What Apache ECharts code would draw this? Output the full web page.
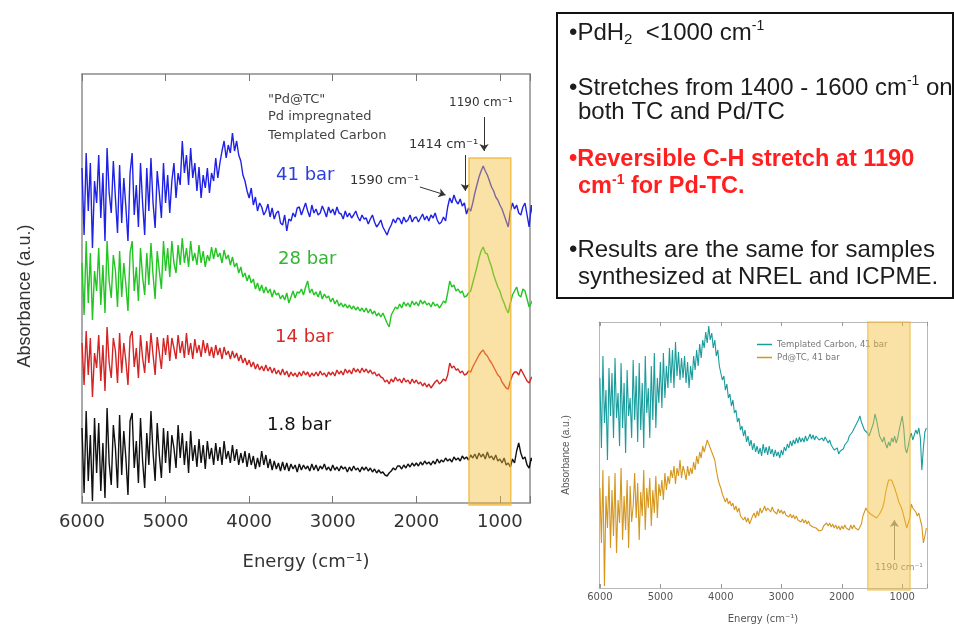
<!DOCTYPE html>
<html><head><meta charset="utf-8">
<script src="https://cdn.jsdelivr.net/npm/echarts@6/dist/echarts.min.js"></script>
<style>html,body{margin:0;padding:0;background:#fff}#c{width:954px;height:625px}</style>
</head><body><div id="c"></div>
<script>
// ---- data (energy in cm-1, absorbance in arbitrary units, offset traces) ----
const energy = [
6000,5975,5950,5925,5900,5875,5850,5825,
5800,5775,5750,5725,5700,5675,5650,5625,
5600,5575,5550,5525,5500,5475,5450,5425,
5400,5375,5350,5325,5300,5275,5250,5225,
5200,5175,5150,5125,5100,5075,5050,5025,
5000,4975,4950,4925,4900,4875,4850,4825,
4800,4775,4750,4725,4700,4675,4650,4625,
4600,4575,4550,4525,4500,4475,4450,4425,
4400,4375,4350,4325,4300,4275,4250,4225,
4200,4175,4150,4125,4100,4075,4050,4025,
4000,3975,3950,3925,3900,3875,3850,3825,
3800,3775,3750,3725,3700,3675,3650,3625,
3600,3575,3550,3525,3500,3475,3450,3425,
3400,3375,3350,3325,3300,3275,3250,3225,
3200,3175,3150,3125,3100,3075,3050,3025,
3000,2975,2950,2925,2900,2875,2850,2825,
2800,2775,2750,2725,2700,2675,2650,2625,
2600,2575,2550,2525,2500,2475,2450,2425,
2400,2375,2350,2325,2300,2275,2250,2225,
2200,2175,2150,2125,2100,2075,2050,2025,
2000,1975,1950,1925,1900,1875,1850,1825,
1800,1775,1750,1725,1700,1675,1650,1625,
1600,1575,1550,1525,1500,1475,1450,1425,
1400,1375,1350,1325,1300,1275,1250,1225,
1200,1175,1150,1125,1100,1075,1050,1025,
1000,975,950,925,900,875,850,825,
800,775,750,725,700,675,650,625,
600];

const bar41 = [
335,268,350,292,340,255,322,300,
348,285,330,262,355,310,290,342,
305,270,338,280,325,296,262,330,
350,288,318,276,340,300,268,335,
292,345,300,275,332,310,285,340,
300,328,290,322,340,305,330,318,
362,330,348,318,355,325,340,312,
336,305,328,315,335,310,330,322,
345,325,340,352,362,345,358,350,
370,352,362,348,342,328,322,312,
305,315,298,306,292,300,296,288,
292,299,286,295,284,290,292,280,
278,288,272,284,282,290,286,295,
296,288,294,300,292,286,298,290,
294,288,290,297,292,286,296,290,
294,288,296,290,289,284,292,286,
290,285,288,292,286,282,288,284,
285,279,284,288,281,276,279,283,
276,272,268,274,278,284,280,285,
284,279,286,281,283,288,281,285,
286,281,285,289,283,287,282,288,
285,290,283,279,281,286,282,296,
305,300,308,302,299,304,297,300,
289,295,292,300,310,318,326,332,
337,332,328,322,316,312,306,303,
298,294,288,282,276,292,300,294,
298,290,288,296,300,288,276,298,
284];

const bar28 = [
240,188,262,200,250,183,232,212,
255,198,238,190,262,222,205,248,
232,196,252,206,240,218,192,250,
262,212,236,202,255,226,208,250,
218,260,228,204,252,232,214,262,
232,255,226,262,240,230,258,238,
265,240,255,236,262,242,250,238,
258,240,252,236,248,242,256,244,
255,246,250,240,253,244,248,238,
246,236,240,230,236,226,230,222,
228,220,224,214,220,212,218,210,
216,210,214,206,213,208,210,204,
208,203,210,200,206,212,205,211,
210,214,208,216,222,210,214,208,
211,206,212,204,209,205,207,201,
205,199,203,197,200,196,199,195,
198,194,197,193,196,192,195,191,
195,190,194,189,192,187,190,186,
190,185,180,176,188,192,196,194,
199,195,201,197,200,196,202,198,
201,197,203,199,202,198,200,196,
201,197,199,195,198,202,200,210,
222,216,218,212,214,210,212,206,
207,210,212,220,228,236,245,252,
256,250,249,242,236,228,222,216,
212,205,200,194,190,200,208,212,
216,208,206,214,212,204,196,200,
204];

const bar14 = [
160,118,172,128,165,106,150,135,
168,122,158,112,176,140,125,165,
152,120,170,130,160,142,118,166,
172,136,155,125,168,145,130,162,
140,170,148,128,166,150,134,165,
148,168,142,165,155,144,168,150,
162,145,170,148,160,144,164,150,
158,146,163,150,160,147,156,145,
158,148,155,144,156,148,152,144,
152,145,150,142,148,140,145,138,
143,136,141,134,139,133,137,132,
138,132,136,130,135,129,133,128,
134,128,132,126,131,127,130,126,
131,127,132,128,131,126,130,127,
131,127,132,128,130,126,131,128,
131,127,133,129,132,128,134,130,
133,129,135,131,134,130,135,131,
134,130,133,129,131,127,129,126,
125,121,123,119,124,121,126,122,
124,120,125,121,123,119,124,120,
123,119,121,117,120,116,119,115,
118,121,123,119,121,124,122,128,
140,135,137,133,134,130,132,128,
129,132,131,136,140,144,148,151,
153,149,147,143,140,136,132,128,
126,121,118,115,114,122,128,131,
131,128,134,130,126,122,120,125,
127];

const bar1p8 = [
75,10,92,22,68,2,85,30,
80,12,60,5,95,40,18,78,
55,15,88,28,72,45,8,82,
90,35,62,20,85,42,15,70,
38,92,50,22,80,48,25,75,
40,72,30,68,55,35,78,45,
70,38,62,30,72,42,58,36,
64,40,58,34,62,44,55,38,
60,42,56,38,62,44,52,40,
58,42,54,38,50,40,52,36,
50,38,47,34,45,36,52,38,
48,35,44,33,42,34,40,32,
41,33,40,32,39,34,38,31,
39,33,38,34,37,32,39,33,
38,32,37,34,39,33,36,32,
38,33,36,32,37,34,36,31,
36,32,37,33,35,31,36,33,
36,32,35,31,34,30,33,30,
31,28,27,30,32,35,33,37,
37,34,38,35,39,36,40,37,
40,37,41,38,42,39,41,38,
42,39,44,40,43,41,45,42,
44,41,46,43,45,42,47,44,
46,43,48,45,49,44,50,46,
49,44,51,45,47,43,48,42,
44,40,45,38,40,36,44,40,
52,60,50,44,46,38,35,45,
40];

const tc41 = [
210,140,232,165,198,128,220,172,
215,150,230,170,195,142,225,160,
205,135,218,172,190,150,228,168,
212,146,225,158,205,140,232,175,
200,150,222,168,235,160,210,185,
226,180,235,190,222,200,240,205,
238,200,246,212,236,208,230,210,
232,205,226,200,222,208,232,218,
238,222,244,230,248,240,256,245,
262,248,255,240,248,232,238,222,
220,208,212,198,204,190,194,182,
188,175,178,166,170,158,162,152,
158,146,152,142,148,138,145,136,
142,134,140,132,144,135,141,133,
142,134,139,131,138,132,136,130,
138,133,141,137,144,140,147,142,
148,144,150,145,151,146,150,146,
152,147,150,154,149,153,148,152,
152,148,146,150,147,151,149,145,
148,143,141,138,136,140,134,137,
135,139,143,141,147,152,150,156,
158,162,165,168,172,166,162,158,
160,155,152,156,158,165,174,168,
160,152,150,146,151,144,140,146,
142,150,146,152,145,150,158,165,
172,160,140,135,142,150,155,148,
150,158,154,160,150,118,140,156,
160];

const pdtc41 = [
100,45,118,2,92,60,112,40,
98,52,115,35,88,65,120,48,
92,58,108,40,102,66,82,115,
70,105,48,96,72,118,58,100,
80,110,62,98,75,112,70,104,
92,108,88,115,98,112,104,118,
110,122,104,120,112,128,110,122,
116,108,122,112,120,114,126,118,
132,124,136,130,142,136,138,148,
146,140,138,132,128,118,110,104,
100,94,92,86,90,84,87,82,
85,78,82,76,80,72,74,68,
71,66,70,64,68,72,75,70,
77,72,80,75,78,82,77,80,
80,76,81,77,78,74,79,75,
78,74,77,73,75,71,74,70,
73,69,72,68,70,66,69,65,
68,64,67,63,65,61,63,60,
60,57,55,58,62,60,65,62,
65,61,64,60,63,59,62,58,
62,59,63,60,62,58,63,59,
63,60,62,58,61,64,72,76,
80,77,78,74,76,72,73,70,
70,74,72,80,86,95,102,108,
110,108,106,100,95,90,85,82,
78,72,66,60,58,70,84,80,
80,76,72,75,68,62,45,52,
60];

const mainSeriesNames = ['41 bar','28 bar','14 bar','1.8 bar'];
const smallSeriesNames = ['Templated Carbon, 41 bar','Pd@TC, 41 bar'];
// highlighted bands: [energy from, energy to, top value]
const mainBand = [[1370, 870, 345]];
const smallBand = [[1570, 870, 266]];
// annotation arrows [[x0,y0],[x1,y1]]
const mainArrows = [[[1190,386],[1190,352]], [[1414,348],[1414,312]], [[1957,316],[1650,308]]];
const smallArrows = [[[1130,28],[1130,68]]];

const DV = "'DejaVu Sans', Verdana, sans-serif";
const AR = "'Liberation Sans', Arial, Helvetica, sans-serif";
const pair = ys => energy.map((e, i) => [e, ys[i]]);
const tickFmt = v => (v % 1000 === 0 ? String(v) : '');

const chart = echarts.init(document.getElementById('c'));

function bandSeries(xi, yi, data, fill, stroke) {
  return {
    type: 'custom', xAxisIndex: xi, yAxisIndex: yi, z: 10, silent: true,
    data: data,
    renderItem: function (params, api) {
      const p0 = api.coord([api.value(0), api.value(2)]);
      const p1 = api.coord([api.value(1), 0]);
      return {
        type: 'rect',
        shape: {x: p0[0], y: p0[1], width: p1[0] - p0[0], height: p1[1] - p0[1] + 2},
        style: {fill: fill, stroke: stroke, lineWidth: 1.5}
      };
    }
  };
}
function arrowSeries(xi, yi, arrows, color) {
  return {
    type: 'line', xAxisIndex: xi, yAxisIndex: yi, data: [], silent: true,
    markLine: {
      silent: true, symbol: ['none', 'arrow'], symbolSize: 7,
      label: {show: false},
      lineStyle: {color: color, width: 1, type: 'solid'},
      data: arrows.map(a => [{coord: a[0]}, {coord: a[1]}])
    }
  };
}
function richNormal() {
  const c = '#1c1c1c';
  return {
    n: {fontFamily: AR, fontSize: 24, lineHeight: 28, fill: c, color: c},
    sup: {fontFamily: AR, fontSize: 14, lineHeight: 18, verticalAlign: 'top', fill: c, color: c},
    sub: {fontFamily: AR, fontSize: 15, lineHeight: 14, verticalAlign: 'bottom', fill: c, color: c}
  };
}
function richBold() {
  const c = '#ff1f1f';
  return {
    n: {fontFamily: AR, fontSize: 23.5, fontWeight: 'bold', lineHeight: 28, fill: c, color: c},
    sup: {fontFamily: AR, fontSize: 14, fontWeight: 'bold', lineHeight: 18, verticalAlign: 'top', fill: c, color: c}
  };
}

const mainX = {type: 'value', inverse: true, min: 640, max: 6000, splitLine: {show: false}};
const smallX = {type: 'value', inverse: true, min: 590, max: 6015, splitLine: {show: false}};
const LW = 1.4;

const option = {
  animation: false,
  backgroundColor: '#ffffff',
  grid: [
    {left: 82, top: 74, width: 448, height: 429},
    {left: 599, top: 322, width: 328, height: 266}
  ],
  legend: {
    data: smallSeriesNames, orient: 'vertical', left: 752, top: 335,
    icon: 'rect', itemWidth: 15, itemHeight: 1.5, itemGap: 4,
    textStyle: {fontFamily: DV, fontSize: 8.5, color: '#777'}
  },
  xAxis: [
    Object.assign({}, mainX, {
      gridIndex: 0, position: 'bottom',
      axisLine: {onZero: false, lineStyle: {color: '#8c8c8c', width: 1.5}},
      axisTick: {inside: true, length: 7, lineStyle: {color: '#777'}},
      axisLabel: {fontFamily: DV, fontSize: 18, color: '#333', margin: 10, formatter: tickFmt},
      name: 'Energy (cm\u207B\u00B9)', nameLocation: 'middle', nameGap: 50,
      nameTextStyle: {fontFamily: DV, fontSize: 18, color: '#333'}
    }),
    Object.assign({}, mainX, {
      gridIndex: 0, position: 'top',
      axisLine: {onZero: false, lineStyle: {color: '#8c8c8c', width: 1.5}},
      axisTick: {inside: true, length: 7, lineStyle: {color: '#777'}},
      axisLabel: {show: false}
    }),
    Object.assign({}, smallX, {
      gridIndex: 1, position: 'bottom',
      axisLine: {onZero: false, lineStyle: {color: '#b8b8b8', width: 1}},
      axisTick: {inside: true, length: 4, lineStyle: {color: '#999'}},
      axisLabel: {fontFamily: DV, fontSize: 10, color: '#555', margin: 4, formatter: tickFmt},
      name: 'Energy (cm\u207B\u00B9)', nameLocation: 'middle', nameGap: 26,
      nameTextStyle: {fontFamily: DV, fontSize: 10, color: '#555'}
    }),
    Object.assign({}, smallX, {
      gridIndex: 1, position: 'top',
      axisLine: {onZero: false, lineStyle: {color: '#b8b8b8', width: 1}},
      axisTick: {inside: true, length: 4, lineStyle: {color: '#999'}},
      axisLabel: {show: false}
    })
  ],
  yAxis: [
    {gridIndex: 0, type: 'value', min: 0, max: 429, position: 'left',
     axisLine: {show: true, onZero: false, lineStyle: {color: '#8c8c8c', width: 1.5}},
     axisTick: {show: false}, axisLabel: {show: false}, splitLine: {show: false}},
    {gridIndex: 0, type: 'value', min: 0, max: 429, position: 'right',
     axisLine: {show: true, onZero: false, lineStyle: {color: '#8c8c8c', width: 1.5}},
     axisTick: {show: false}, axisLabel: {show: false}, splitLine: {show: false}},
    {gridIndex: 1, type: 'value', min: 0, max: 266, position: 'left',
     axisLine: {show: true, onZero: false, lineStyle: {color: '#b8b8b8', width: 1}},
     axisTick: {show: false}, axisLabel: {show: false}, splitLine: {show: false},
     name: 'Absorbance (a.u.)', nameLocation: 'middle', nameGap: 28,
     nameTextStyle: {fontFamily: AR, fontSize: 10, color: '#555'}},
    {gridIndex: 1, type: 'value', min: 0, max: 266, position: 'right',
     axisLine: {show: true, onZero: false, lineStyle: {color: '#b8b8b8', width: 1}},
     axisTick: {show: false}, axisLabel: {show: false}, splitLine: {show: false}}
  ],
  series: [
    {name: mainSeriesNames[0], type: 'line', xAxisIndex: 0, yAxisIndex: 0, data: pair(bar41), symbol: 'none', z: 2, lineStyle: {color: '#1f22e6', width: LW}},
    {name: mainSeriesNames[1], type: 'line', xAxisIndex: 0, yAxisIndex: 0, data: pair(bar28), symbol: 'none', z: 2, lineStyle: {color: '#22c522', width: LW}},
    {name: mainSeriesNames[2], type: 'line', xAxisIndex: 0, yAxisIndex: 0, data: pair(bar14), symbol: 'none', z: 2, lineStyle: {color: '#d42424', width: LW}},
    {name: mainSeriesNames[3], type: 'line', xAxisIndex: 0, yAxisIndex: 0, data: pair(bar1p8), symbol: 'none', z: 2, lineStyle: {color: '#111111', width: LW}},
    {name: smallSeriesNames[0], type: 'line', xAxisIndex: 2, yAxisIndex: 2, data: pair(tc41), symbol: 'none', z: 2, itemStyle: {color: '#1a9c9c'}, lineStyle: {color: '#1a9c9c', width: 1.1}},
    {name: smallSeriesNames[1], type: 'line', xAxisIndex: 2, yAxisIndex: 2, data: pair(pdtc41), symbol: 'none', z: 2, itemStyle: {color: '#d4961e'}, lineStyle: {color: '#d4961e', width: 1.1}},
    bandSeries(0, 0, mainBand, 'rgba(245,190,60,0.45)', 'rgba(240,180,50,0.8)'),
    bandSeries(2, 2, smallBand, 'rgba(245,190,60,0.45)', 'rgba(240,180,50,0.6)'),
    arrowSeries(0, 0, mainArrows, '#333'),
    arrowSeries(2, 2, smallArrows, '#888')
  ],
  graphic: {elements: [
    {type: 'text', x: 25, y: 296, rotation: Math.PI / 2, style: {text: 'Absorbance (a.u.)', font: '18px ' + AR, fill: '#333', align: 'center', verticalAlign: 'middle'}},
    {type: 'text', x: 276, y: 175, style: {text: '41 bar', font: '18px ' + DV, fill: '#2b3de0', verticalAlign: 'middle'}},
    {type: 'text', x: 278, y: 259, style: {text: '28 bar', font: '18px ' + DV, fill: '#33b533', verticalAlign: 'middle'}},
    {type: 'text', x: 275, y: 337, style: {text: '14 bar', font: '18px ' + DV, fill: '#d42a2a', verticalAlign: 'middle'}},
    {type: 'text', x: 267, y: 425, style: {text: '1.8 bar', font: '18px ' + DV, fill: '#111', verticalAlign: 'middle'}},
    {type: 'text', x: 268, y: 100, style: {text: '"Pd@TC"', font: '13px ' + DV, fill: '#444', verticalAlign: 'middle'}},
    {type: 'text', x: 268, y: 117, style: {text: 'Pd impregnated', font: '13px ' + DV, fill: '#444', verticalAlign: 'middle'}},
    {type: 'text', x: 268, y: 136, style: {text: 'Templated Carbon', font: '13px ' + DV, fill: '#444', verticalAlign: 'middle'}},
    {type: 'text', x: 449, y: 103, style: {text: '1190 cm\u207B\u00B9', font: '12px ' + DV, fill: '#333', verticalAlign: 'middle'}},
    {type: 'text', x: 409, y: 145, style: {text: '1414 cm\u207B\u00B9', font: '13px ' + DV, fill: '#333', verticalAlign: 'middle'}},
    {type: 'text', x: 350, y: 181, style: {text: '1590 cm\u207B\u00B9', font: '13px ' + DV, fill: '#333', verticalAlign: 'middle'}},
    {type: 'text', x: 875, y: 568, style: {text: '1190 cm\u207B\u00B9', font: '9px ' + DV, fill: '#888', verticalAlign: 'middle'}},
    {type: 'rect', shape: {x: 557, y: 13, width: 396, height: 285}, style: {fill: '#fff', stroke: '#111', lineWidth: 2}, z: 1},
    {type: 'text', x: 569, y: 33, z: 2, style: {text: '{n|\u2022PdH}{sub|2}{n|  <1000 cm}{sup|-1}', verticalAlign: 'middle', rich: richNormal()}},
    {type: 'text', x: 569, y: 88, z: 2, style: {text: '{n|\u2022Stretches from 1400 - 1600 cm}{sup|-1}{n| on}', verticalAlign: 'middle', rich: richNormal()}},
    {type: 'text', x: 578, y: 112, z: 2, style: {text: '{n|both TC and Pd/TC}', verticalAlign: 'middle', rich: richNormal()}},
    {type: 'text', x: 569, y: 160, z: 2, style: {text: '{n|\u2022Reversible C-H stretch at 1190}', verticalAlign: 'middle', rich: richBold()}},
    {type: 'text', x: 578, y: 187, z: 2, style: {text: '{n|cm}{sup|-1}{n| for Pd-TC.}', verticalAlign: 'middle', rich: richBold()}},
    {type: 'text', x: 569, y: 250, z: 2, style: {text: '{n|\u2022Results are the same for samples}', verticalAlign: 'middle', rich: richNormal()}},
    {type: 'text', x: 578, y: 277, z: 2, style: {text: '{n|synthesized at NREL and ICPME.}', verticalAlign: 'middle', rich: richNormal()}}
  ]}
};

chart.setOption(option);
</script>
</body></html>
